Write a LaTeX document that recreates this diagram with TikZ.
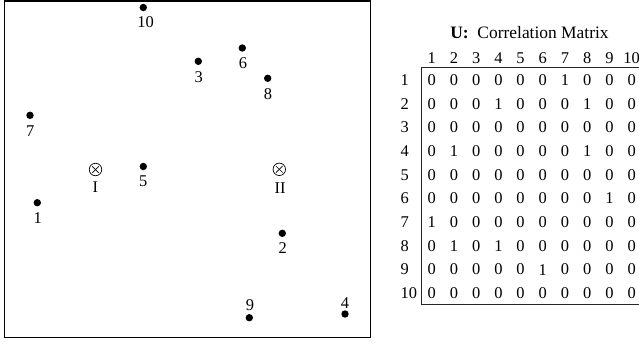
\documentclass[tikz,border=0pt]{standalone}
\usepackage{fontspec}
\setmainfont{Liberation Serif}
\begin{document}
\begin{tikzpicture}[x=1bp,y=-1bp,
  dot/.style={circle,fill=black,inner sep=0pt,minimum size=7.4bp},
  lbl/.style={inner sep=0pt,font=\fontsize{16.5}{18}\selectfont},
  cross/.style={circle,draw=black,line width=0.7bp,inner sep=0pt,minimum size=12.5bp,
    path picture={\draw[line width=0.7bp] ([shift={(3bp,-3bp)}]path picture bounding box.north west) -- ([shift={(-3bp,3bp)}]path picture bounding box.south east);
                  \draw[line width=0.7bp] ([shift={(3bp,3bp)}]path picture bounding box.south west) -- ([shift={(-3bp,-3bp)}]path picture bounding box.north east);}},
  mat/.style={inner sep=0pt,font=\fontsize{16.5}{18}\selectfont}]
\useasboundingbox (0,0) rectangle (639,343);
% frame
\node[draw=black,line width=1.3bp,inner sep=0pt,minimum width=366.4bp,minimum height=336.7bp] (frame) at (187.5,169.35) {};
% points
\node[dot] (p10) at (143.3,7.5) {};  \node[lbl] (l10) at (145.5,22.5) {10};
\node[dot] (p3) at (198.3,61.3) {};  \node[lbl] (l3) at (198.7,76.7) {3};
\node[dot] (p6) at (242.3,48) {};    \node[lbl] (l6) at (243,62.7) {6};
\node[dot] (p8) at (267.7,78.3) {};  \node[lbl] (l8) at (268,93.7) {8};
\node[dot] (p7) at (30,115.3) {};    \node[lbl] (l7) at (30.3,130.7) {7};
\node[dot] (p5) at (143.3,166.5) {}; \node[lbl] (l5) at (143.3,181) {5};
\node[dot] (p1) at (37.3,202.7) {};  \node[lbl] (l1) at (37.7,217.7) {1};
\node[dot] (p2) at (282.3,233.3) {}; \node[lbl] (l2) at (282.7,248.3) {2};
\node[dot] (p9) at (249.3,317.7) {}; \node[lbl] (l9) at (250,305) {9};
\node[dot] (p4) at (345,314) {};     \node[lbl] (l4) at (345,302.7) {4};
% centroids
\node[cross] (cI) at (95.5,169.5) {};   \node[lbl] (lI) at (95.3,187.5) {I};
\node[cross] (cII) at (279.3,169.3) {}; \node[lbl] (lII) at (280,187.7) {II};
% matrix
\node[lbl,font=\fontsize{17.5}{19}\selectfont] (title) at (529.5,33) {\textbf{U:}\ \ Correlation Matrix};
\foreach \j in {1,...,10} {
  \node[mat] (h\j) at ({431.7+(\j-1)*22.22},58) {\j};
}
\foreach \i in {1,...,10} {
  \node[mat,anchor=west] (r\i) at (400.5,{80+(\i-1)*23.7}) {\i};
}
\foreach \row [count=\i] in {
  {0,0,0,0,0,0,1,0,0,0},
  {0,0,0,1,0,0,0,1,0,0},
  {0,0,0,0,0,0,0,0,0,0},
  {0,1,0,0,0,0,0,1,0,0},
  {0,0,0,0,0,0,0,0,0,0},
  {0,0,0,0,0,0,0,0,1,0},
  {1,0,0,0,0,0,0,0,0,0},
  {0,1,0,1,0,0,0,0,0,0},
  {0,0,0,0,0,1,0,0,0,0},
  {0,0,0,0,0,0,0,0,0,0}} {
  \foreach \v [count=\j] in \row {
    \node[mat] (m\i-\j) at ({431.7+(\j-1)*22.22},{80+(\i-1)*23.7}) {\v};
  }
}
\coordinate (btr) at (639,67.3);
\coordinate (bbr) at (639,304);
\draw[line width=1bp,black!85] (btr) -- (421.7,67.3) coordinate (btl) -- (421.7,304) coordinate (bbl) -- (bbr);
\end{tikzpicture}
\end{document}
